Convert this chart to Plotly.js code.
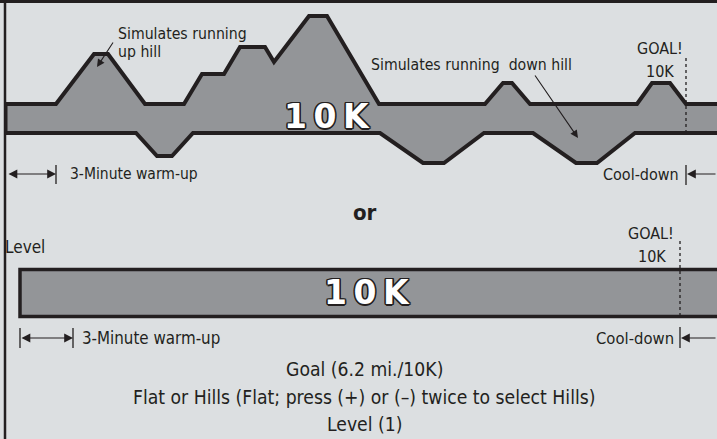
<!DOCTYPE html>
<html>
<head>
<meta charset="utf-8">
<script src="https://cdn.plot.ly/plotly-3.0.1.min.js"></script>
<style>html,body{margin:0;padding:0;background:#dcdfe1;}#chart{width:717px;height:439px;}</style>
</head>
<body>
<div id="chart"></div>
<script>
// ---- Data ----
// Hills program: time positions and incline rise / drop relative to the band
const hillTime   = [7,56,94,108,145,184,202,224,240,265,274,309,327,379,485,503,512,530,637,652,670,686,717];
const hillRise   = [0,0,50,50,0,0,30,30,57,57,42,88,88,0,0,21,21,0,0,21,21,0,0];
const valleyTime = [7,136,157,172,193,380,423,444,484,533,576,597,635,717];
const valleyDrop = [0,0,23,23,0,0,30,30,0,0,30,30,0,0];
// Flat program
const flatTime = [20,720];
const flatRise = [0,0];
// Goal / warm-up markers
const goalHills = 686, goalFlat = 680;
const warmupHills = [7,56], warmupFlat = [20,73];
const bottomLines = ["Goal (6.2 mi./10K)", "Flat or Hills (Flat; press (+) or (\u2013) twice to select Hills)", "Level (1)"];

// ---- Layout constants ----
const INK = '#231f20', FILL = '#939598', BG = '#dcdfe1';
const NARROW = '"Liberation Sans Narrow", "DejaVu Sans Condensed", "Arial Narrow", sans-serif';
const hTop = 104, hBot = 133;     // hills band edges
const fTop = 269.5, fBot = 316.5; // flat band edges

const upY = hillRise.map(r => hTop - r);
const lowY = valleyDrop.map(d => hBot + d);
const flatUp = flatRise.map(r => fTop - r);
const flatLow = flatRise.map(() => fBot);

const traces = [
  {x: hillTime.concat(valleyTime.slice().reverse()), y: upY.concat(lowY.slice().reverse()),
   mode:'lines', fill:'toself', fillcolor:FILL, line:{width:0}, hoverinfo:'skip'},
  {x: hillTime, y: upY, mode:'lines', line:{color:INK, width:4}, hoverinfo:'skip'},
  {x: valleyTime, y: lowY, mode:'lines', line:{color:INK, width:4}, hoverinfo:'skip'},
  {x: flatTime.concat(flatTime.slice().reverse()), y: flatUp.concat(flatLow.slice().reverse()),
   mode:'lines', fill:'toself', fillcolor:FILL, line:{width:0}, hoverinfo:'skip'},
  {x: [flatTime[1], flatTime[0], flatTime[0], flatTime[1]],
   y: [flatUp[1], flatUp[0], flatLow[0], flatLow[1]], mode:'lines', line:{color:INK, width:3.5}, hoverinfo:'skip'},
  {x:[goalHills, goalHills], y:[58, hBot], mode:'lines', line:{color:INK, width:1.3, dash:'dot'}, hoverinfo:'skip'},
  {x:[goalFlat, goalFlat], y:[241, fBot], mode:'lines', line:{color:INK, width:1.3, dash:'dot'}, hoverinfo:'skip'}
];

function txt(x, y, text, size, opts) {
  return Object.assign({x:x, y:y, xref:'x', yref:'y', text:text, showarrow:false,
    font:{family:NARROW, size:size, color:INK}, xanchor:'left', yanchor:'middle'}, opts || {});
}
function arrow(x, y, ax, ay, side, size) {
  const s = size || 1.6;
  return {x:x, y:y, ax:ax, ay:ay, xref:'x', yref:'y', axref:'x', ayref:'y', text:'', showarrow:true,
    arrowhead:2, arrowsize:s, arrowwidth:1.1, arrowcolor:INK, standoff:0, startstandoff:0,
    arrowside: side || 'end', startarrowhead:2, startarrowsize:s};
}
const bigFont = {family:'"DejaVu Sans", sans-serif', size:33, color:'white', weight:700,
  shadow:'-1.3px -1.3px 0 #231f20, 1.3px -1.3px 0 #231f20, -1.3px 1.3px 0 #231f20, 1.3px 1.3px 0 #231f20, 0 1.5px 0 #231f20, 0 -1.5px 0 #231f20, 1.5px 0 0 #231f20, -1.5px 0 0 #231f20'};
const goalFont = {family:NARROW, size:16, color:INK};

const annotations = [
  txt(116, 33, 'Simulates running', 15.7),
  txt(116, 51, 'up hill', 15.7),
  arrow(97, 67, 114, 41, 'end', 1.4),
  txt(369, 64, 'Simulates running&nbsp;&nbsp;down hill', 15.7),
  arrow(578, 138, 534, 74, 'end', 1.4),
  txt(660, 48, 'GOAL!', 16, {xanchor:'center', font:goalFont}),
  txt(660, 71, '10K', 16, {xanchor:'center', font:goalFont}),
  {x:327, y:116, xref:'x', yref:'y', text:'1\u20090\u2009K', showarrow:false, font:bigFont, xanchor:'center', yanchor:'middle'},
  arrow(warmupHills[1], 174, warmupHills[0], 174, 'end+start'),
  txt(68, 174, '3-Minute warm-up', 15.5),
  txt(681, 174, 'Cool-down', 16),
  arrow(goalHills + 1, 174, 717, 174),
  txt(365, 212, 'or', 22, {xanchor:'center', font:{family:NARROW, size:22, color:INK, weight:700}}),
  txt(3, 247, 'Level', 17),
  txt(651, 233, 'GOAL!', 16, {xanchor:'center', font:goalFont}),
  txt(652, 256, '10K', 16, {xanchor:'center', font:goalFont}),
  {x:367, y:292, xref:'x', yref:'y', text:'1\u20090\u2009K', showarrow:false, font:bigFont, xanchor:'center', yanchor:'middle'},
  arrow(warmupFlat[1], 338, warmupFlat[0], 338, 'end+start'),
  txt(80, 338, '3-Minute warm-up', 16.8),
  txt(676, 338, 'Cool-down', 16.5),
  arrow(goalFlat + 1, 338, 717, 338),
  txt(364, 369, bottomLines[0], 19.2, {xanchor:'center'}),
  txt(364, 397, bottomLines[1], 19.2, {xanchor:'center'}),
  txt(364, 424, bottomLines[2], 19.2, {xanchor:'center'})
];
// right-anchor the cool-down labels
annotations[10].xanchor = 'right';
annotations[19].xanchor = 'right';

const tick = (x, y0, y1) => ({type:'line', xref:'x', yref:'y', x0:x, x1:x, y0:y0, y1:y1, line:{color:INK, width:1.3}});
const shapes = [
  {type:'line', xref:'x', yref:'y', x0:0, x1:717, y0:1.5, y1:1.5, line:{color:INK, width:3}},
  {type:'line', xref:'x', yref:'y', x0:5, x1:5, y0:0, y1:439, line:{color:INK, width:2.5}},
  {type:'line', xref:'x', yref:'y', x0:6, x1:6, y0:hTop-2, y1:hBot+2, line:{color:INK, width:3}},
  tick(warmupHills[1], 165, 184),
  tick(goalHills, 165, 185),
  tick(warmupFlat[0], 328, 348),
  tick(warmupFlat[1], 328, 348),
  tick(goalFlat, 327, 348)
];

const layout = {
  width:717, height:439, margin:{l:0, r:0, t:0, b:0},
  paper_bgcolor:BG, plot_bgcolor:BG, showlegend:false,
  xaxis:{range:[0,717], visible:false, fixedrange:true},
  yaxis:{range:[439,0], visible:false, fixedrange:true},
  annotations:annotations, shapes:shapes
};
Plotly.newPlot('chart', traces, layout, {staticPlot:true, displayModeBar:false});
</script>
</body>
</html>
